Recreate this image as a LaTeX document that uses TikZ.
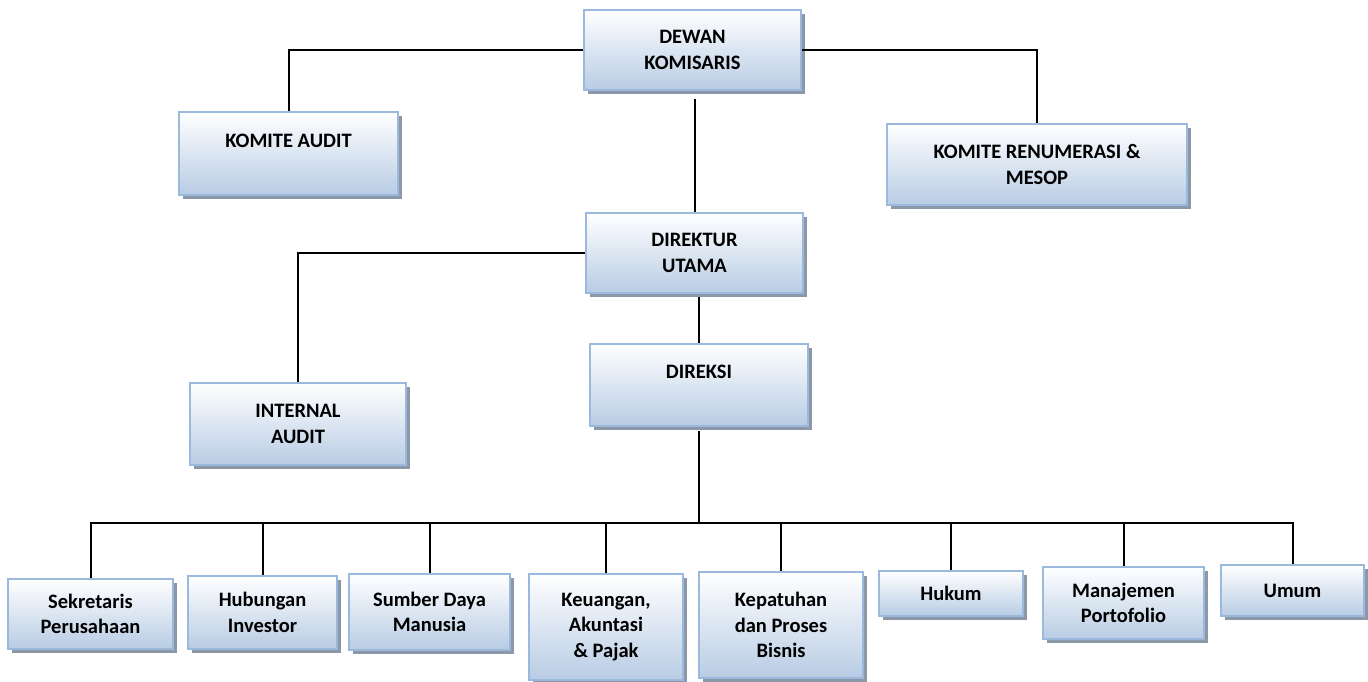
\documentclass[tikz,border=0pt]{standalone}
\usepackage{fontspec}
\setmainfont{Carlito}
\usetikzlibrary{shadows}
\definecolor{boxline}{RGB}{155,185,220}
\definecolor{boxfill}{RGB}{184,204,228}
\definecolor{boxshadow}{RGB}{140,152,168}
\tikzset{
  unit/.style={draw=boxline, line width=1.8pt, top color=white, bottom color=boxfill,
    align=center, font=\fontsize{20.5}{25.5}\selectfont\bfseries, inner sep=0pt,
    general shadow={fill=boxshadow, shadow xshift=4pt, shadow yshift=-4pt}},
  link/.style={line width=2pt, black}
}
\begin{document}
\begin{tikzpicture}[x=1pt,y=-1pt]
\useasboundingbox (0,0) rectangle (1368,681);

% atas
\node[unit, minimum width=217pt, minimum height=80pt](DK) at (692.5, 50){DEWAN\\KOMISARIS};
\node[unit, minimum width=219pt, minimum height=83pt](KA) at (288.5, 153.5){KOMITE AUDIT\\~};
\node[unit, minimum width=300pt, minimum height=81pt](KR) at (1037, 164.5){KOMITE RENUMERASI \&\\MESOP};
\node[unit, minimum width=217pt, minimum height=80pt](DU) at (694.5, 253){DIREKTUR\\UTAMA};
\node[unit, minimum width=218pt, minimum height=82pt](DR) at (699, 385){DIREKSI\\~};
\node[unit, minimum width=216pt, minimum height=82pt](IA) at (298, 424){INTERNAL\\AUDIT};

% bawah
\node[unit, minimum width=165pt, minimum height=70pt](S1) at (90.5, 614){Sekretaris\\Perusahaan};
\node[unit, minimum width=149pt, minimum height=73pt](S2) at (262.5, 612.5){Hubungan\\Investor};
\node[unit, minimum width=161pt, minimum height=76pt](S3) at (429.5, 612){Sumber Daya\\Manusia};
\node[unit, minimum width=154pt, minimum height=106pt](S4) at (606, 627){Keuangan,\\Akuntasi\\\& Pajak};
\node[unit, minimum width=164pt, minimum height=106pt](S5) at (781, 625){Kepatuhan\\dan Proses\\Bisnis};
\node[unit, minimum width=144pt, minimum height=45pt](S6) at (951, 593.5){Hukum};
\node[unit, minimum width=161pt, minimum height=72pt](S7) at (1123.5, 603){Manajemen\\Portofolio};
\node[unit, minimum width=143pt, minimum height=51pt](S8) at (1292.5, 590.5){Umum};

% garis
\draw[link] (DK.west) -| (KA.north);
\draw[link] (DK.east) -| (KR.north);
\draw[link] (DU.north |- DK.south) ++(0,-8pt) -- (DU.north);
\draw[link] (DU.west) -| (IA.north);
\draw[link] (DU.south -| DR.north) ++(0,-3pt) -- (DR.north);
\coordinate (bus) at (699, 523);
\draw[link] (DR.south) ++(0,-4pt) -- (bus);
\foreach \s in {S1,S2,S3,S4,S5,S6,S7,S8}
  \draw[link] (bus) -| (\s.north);

\end{tikzpicture}
\end{document}
